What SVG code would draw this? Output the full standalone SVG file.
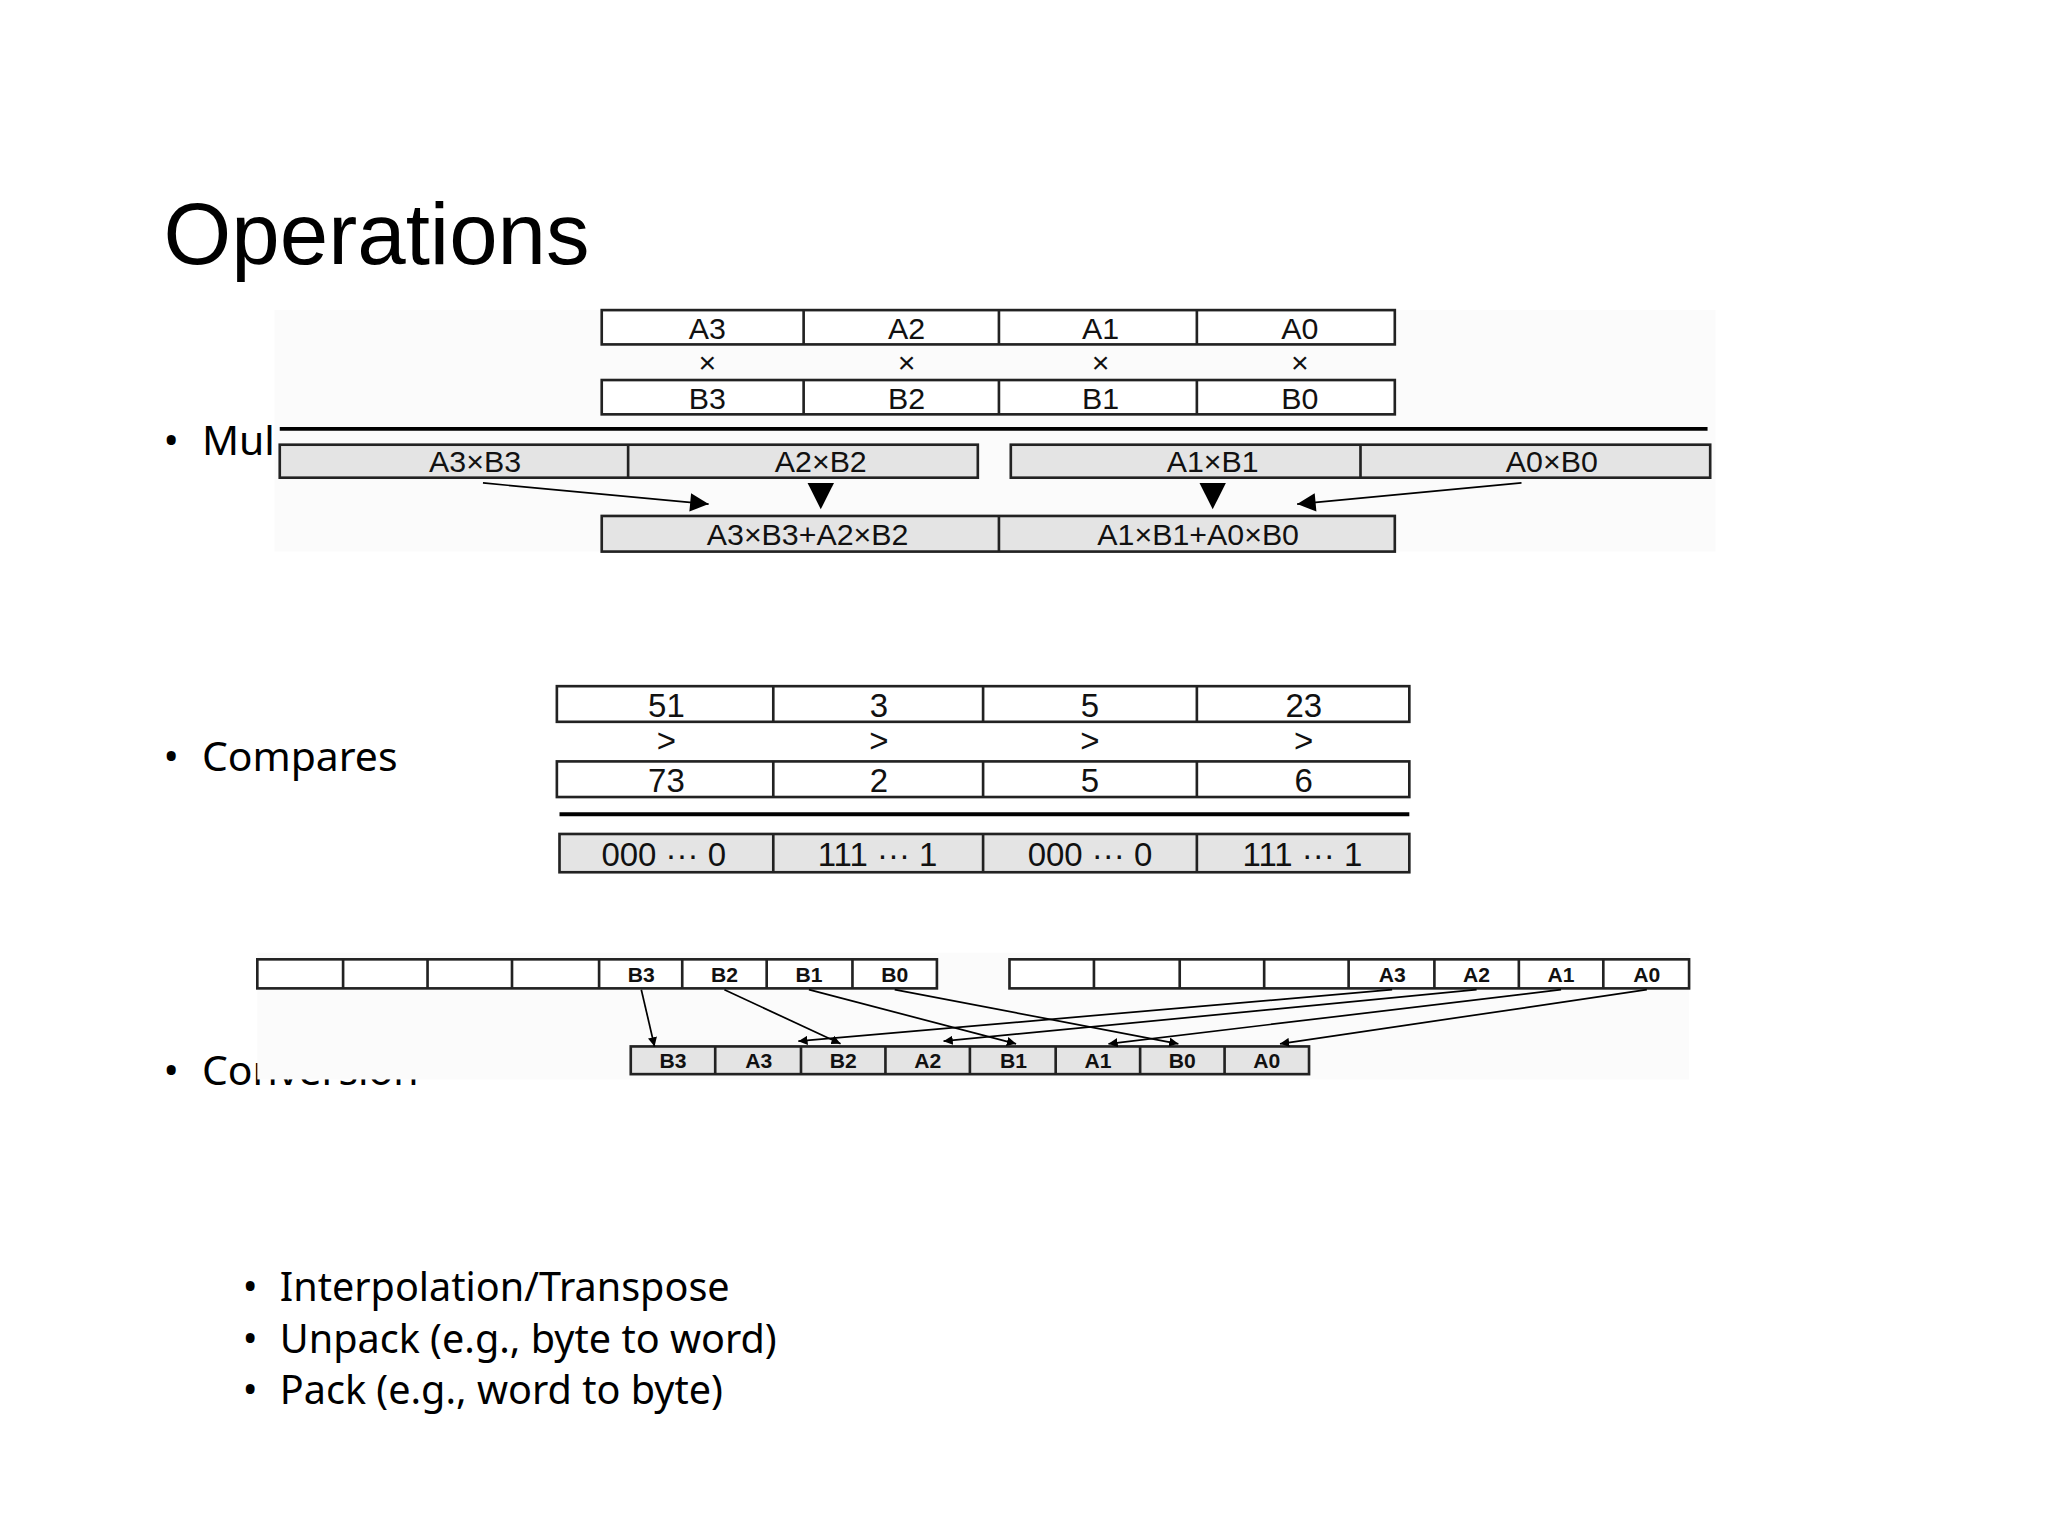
<svg xmlns="http://www.w3.org/2000/svg" width="2048" height="1536" viewBox="0 0 2048 1536">
<defs>
<marker id="ah" viewBox="0 0 10 10" refX="10" refY="5" markerWidth="7" markerHeight="7" markerUnits="userSpaceOnUse" orient="auto"><path d="M0,0L10,5L0,10z" fill="#000"/></marker>
<marker id="ab" viewBox="0 0 10 10" refX="10" refY="5" markerWidth="16" markerHeight="14" markerUnits="userSpaceOnUse" orient="auto"><path d="M0,0L10,5L0,10z" fill="#000"/></marker>
</defs>
<style>
.c{fill:#fff;stroke:#222;stroke-width:2}
.g{fill:#e4e4e4;stroke:#222;stroke-width:2}
.t{font-family:"Liberation Sans",Arial,sans-serif;text-anchor:middle;fill:#111}
.b{font-family:"Noto Sans","Open Sans",sans-serif;fill:#000}
.ln{stroke:#000;stroke-width:1.3;fill:none}
</style>
<rect width="2048" height="1536" fill="#fff"/>
<g transform="scale(1.31959)">
<text x="124" y="200" font-family="Liberation Sans,Arial,sans-serif" font-size="66">Operations</text>
<g class="b" font-size="31">
<text x="124" y="345">•</text><text x="153" y="345">Multiply</text>
<text x="124" y="584">•</text><text x="153" y="584">Compares</text>
<text x="124" y="822">•</text><text x="153" y="822">Conversion</text>
<g font-size="30">
<text x="184" y="986">•</text><text x="212" y="986">Interpolation/Transpose</text>
<text x="184" y="1025">•</text><text x="212" y="1025">Unpack (e.g., byte to word)</text>
<text x="184" y="1064">•</text><text x="212" y="1064">Pack (e.g., word to byte)</text>
</g>
</g>
<g id="mult">
<rect x="208" y="235" width="1092" height="183" fill="#fbfbfb"/>
<rect class="c" x="456" y="235" width="601" height="26"/>
<path class="c" d="M609,235V261M757,235V261M907,235V261"/>
<rect class="c" x="456" y="288" width="601" height="26"/>
<path class="c" d="M609,288V314M757,288V314M907,288V314"/>
<g class="t" font-size="23">
<text x="536" y="257">A3</text><text x="687" y="257">A2</text><text x="834" y="257">A1</text><text x="985" y="257">A0</text>
<text x="536" y="283">×</text><text x="687" y="283">×</text><text x="834" y="283">×</text><text x="985" y="283">×</text>
<text x="536" y="310">B3</text><text x="687" y="310">B2</text><text x="834" y="310">B1</text><text x="985" y="310">B0</text>
</g>
<line x1="212" y1="325" x2="1294" y2="325" stroke="#000" stroke-width="3"/>
<rect class="g" x="212" y="337" width="529" height="25"/>
<path class="c" d="M476,337V362"/>
<rect class="g" x="766" y="337" width="530" height="25"/>
<path class="c" d="M1031,337V362"/>
<rect class="g" x="456" y="391" width="601" height="27"/>
<path class="c" d="M757,391V418"/>
<g class="t" font-size="23">
<text x="360" y="358">A3×B3</text><text x="622" y="358">A2×B2</text><text x="919" y="358">A1×B1</text><text x="1176" y="358">A0×B0</text>
<text x="612" y="413">A3×B3+A2×B2</text><text x="908" y="413">A1×B1+A0×B0</text>
</g>
</g>
<g id="mult-arrows">
<line class="ln" x1="366" y1="366" x2="537" y2="382" marker-end="url(#ab)"/>
<line class="ln" x1="1153" y1="366" x2="983" y2="382" marker-end="url(#ab)"/>
<path d="M612,366L632,366L622,386z"/>
<path d="M909,366L929,366L919,386z"/>
</g>
<g id="compares">
<rect class="c" x="422" y="520" width="646" height="27"/>
<path class="c" d="M586,520V547M745,520V547M907,520V547"/>
<rect class="c" x="422" y="577" width="646" height="27"/>
<path class="c" d="M586,577V604M745,577V604M907,577V604"/>
<line x1="424" y1="617" x2="1068" y2="617" stroke="#000" stroke-width="3"/>
<rect class="g" x="424" y="632" width="644" height="29"/>
<path class="c" d="M586,632V661M745,632V661M907,632V661"/>
<g class="t" font-size="25">
<text x="505" y="543">51</text><text x="666" y="543">3</text><text x="826" y="543">5</text><text x="988" y="543">23</text>
<text x="505" y="570">&gt;</text><text x="666" y="570">&gt;</text><text x="826" y="570">&gt;</text><text x="988" y="570">&gt;</text>
<text x="505" y="600">73</text><text x="666" y="600">2</text><text x="826" y="600">5</text><text x="988" y="600">6</text>
<text x="503" y="656">000 ··· 0</text><text x="665" y="656">111 ··· 1</text><text x="826" y="656">000 ··· 0</text><text x="987" y="656">111 ··· 1</text>
</g>
</g>
<g id="conversion">
<rect x="195" y="722" width="1085" height="96" fill="#fbfbfb"/>
<rect x="140" y="760" width="60" height="62" fill="#fff" opacity="0"/>
<rect class="c" x="195" y="727" width="515" height="22"/>
<path class="c" d="M260,727V749M324,727V749M388,727V749M454,727V749M517,727V749M581,727V749M646,727V749"/>
<rect class="c" x="765" y="727" width="515" height="22"/>
<path class="c" d="M829,727V749M894,727V749M958,727V749M1022,727V749M1087,727V749M1151,727V749M1215,727V749"/>
<rect class="g" x="478" y="793" width="514" height="21"/>
<path class="c" d="M542,793V814M607,793V814M671,793V814M735,793V814M800,793V814M864,793V814M928,793V814"/>
<g class="t" font-size="16" font-weight="bold">
<text x="486" y="744">B3</text><text x="549" y="744">B2</text><text x="613" y="744">B1</text><text x="678" y="744">B0</text>
<text x="1055" y="744">A3</text><text x="1119" y="744">A2</text><text x="1183" y="744">A1</text><text x="1248" y="744">A0</text>
<text x="510" y="809">B3</text><text x="575" y="809">A3</text><text x="639" y="809">B2</text><text x="703" y="809">A2</text>
<text x="768" y="809">B1</text><text x="832" y="809">A1</text><text x="896" y="809">B0</text><text x="960" y="809">A0</text>
</g>
</g>
<g id="conv-arrows">
<line class="ln" x1="486" y1="750" x2="496" y2="793" marker-end="url(#ah)"/>
<line class="ln" x1="549" y1="750" x2="637" y2="791" marker-end="url(#ah)"/>
<line class="ln" x1="613" y1="750" x2="770" y2="791" marker-end="url(#ah)"/>
<line class="ln" x1="678" y1="750" x2="893" y2="791" marker-end="url(#ah)"/>
<line class="ln" x1="1055" y1="750" x2="605" y2="789" marker-end="url(#ah)"/>
<line class="ln" x1="1119" y1="750" x2="715" y2="789" marker-end="url(#ah)"/>
<line class="ln" x1="1183" y1="750" x2="840" y2="791" marker-end="url(#ah)"/>
<line class="ln" x1="1248" y1="750" x2="970" y2="791" marker-end="url(#ah)"/>
</g>
</g>
</svg>
